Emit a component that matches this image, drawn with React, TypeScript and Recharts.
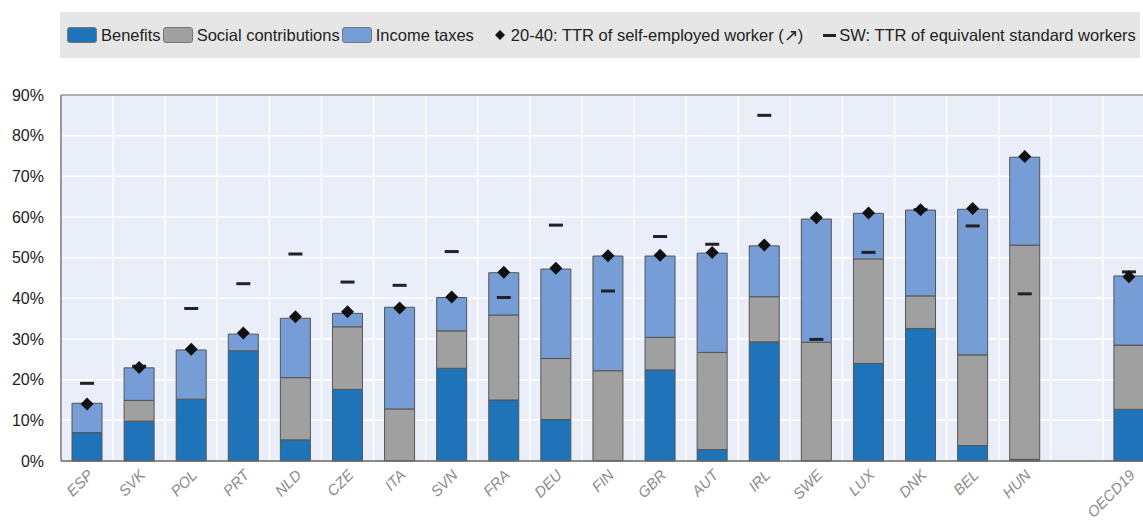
import React from 'react';
import { ComposedChart, Bar, Line, XAxis, YAxis, CartesianGrid, ReferenceLine } from 'recharts';

const categories = ['ESP', 'SVK', 'POL', 'PRT', 'NLD', 'CZE', 'ITA', 'SVN', 'FRA', 'DEU', 'FIN', 'GBR', 'AUT', 'IRL', 'SWE', 'LUX', 'DNK', 'BEL', 'HUN', '', 'OECD19'];
const benefits = [7, 9.8, 15.2, 27.1, 5.2, 17.6, 0, 22.8, 15, 10.2, 0, 22.4, 2.8, 29.3, 0, 24, 32.6, 3.8, 0.4, null, 12.7];
const socialContributions = [0, 5.1, 0, 0, 15.3, 15.4, 12.8, 9.2, 20.9, 15, 22.2, 8, 23.9, 11.1, 29.2, 25.7, 8, 22.3, 52.7, null, 15.8];
const incomeTaxes = [7.2, 8, 12.1, 4.1, 14.6, 3.3, 25, 8.2, 10.4, 22, 28.2, 20, 24.4, 12.5, 30.3, 11.2, 21.1, 35.8, 21.6, null, 17];
const selfEmployed = [14, 23, 27.5, 31.5, 35.5, 36.7, 37.6, 40.3, 46.4, 47.4, 50.5, 50.6, 51.3, 53.1, 59.8, 61, 61.8, 62.1, 74.9, null, 45.3];
const standardWorkers = [19.1, 23.3, 37.5, 43.6, 50.9, 44, 43.2, 51.5, 40.2, 58, 41.8, 55.2, 53.3, 85, 29.9, 51.3, 61.8, 57.8, 41.1, null, 46.5];
const yTicks = [0, 10, 20, 30, 40, 50, 60, 70, 80, 90];

const COL_BEN = '#1f73b9';
const COL_SC = '#a0a0a0';
const COL_IT = '#769dd5';

const data = categories.map((name, i) => ({
  name,
  benefits: benefits[i],
  sc: socialContributions[i],
  it: incomeTaxes[i],
  self: selfEmployed[i],
  sw: standardWorkers[i],
}));

const FONT = '"Liberation Sans", Arial, sans-serif';

// diamond marker for self-employed TTR
const renderDiamond = (props: any) => {
  const { cx, cy, value, index } = props;
  if (value == null || cy == null) return <g key={`d-${index}`} />;
  const r = 6.5;
  return (
    <path
      key={`d-${index}`}
      d={`M${cx},${cy - r} L${cx + r},${cy} L${cx},${cy + r} L${cx - r},${cy} Z`}
      fill="#111"
    />
  );
};

// short dash for standard workers
const renderDash = (props: any) => {
  const { cx, cy, value, index } = props;
  if (value == null || cy == null) return <g key={`s-${index}`} />;
  return <rect key={`s-${index}`} x={cx - 7} y={cy - 1.5} width={14} height={3} fill="#222" />;
};

const renderXTick = ({ x, y, payload }: any) => (
  <text
    x={x + 7}
    y={y + 13}
    transform={`rotate(-45, ${x + 7}, ${y + 13})`}
    textAnchor="end"
    fontSize={15}
    fontFamily={FONT}
    fontStyle="italic"
    fill="#8c8c8c"
  >
    {payload.value}
  </text>
);

const swatch = (color: string) => (
  <span style={{ display: 'inline-block', width: 30, height: 16, background: color, border: '1px solid #777', borderRadius: 3, boxSizing: 'border-box', marginRight: 4 }} />
);

export default function App() {
  return (
    <div style={{ position: 'fixed', left: 0, top: 0, width: 1143, height: 521, overflow: 'hidden', background: '#fff', fontFamily: FONT }}>
      {/* Legend */}
      <div
        style={{
          position: 'absolute', left: 60, top: 12, width: 1080, height: 46, background: '#e6e6e6',
          display: 'flex', alignItems: 'center', paddingLeft: 7, boxSizing: 'border-box', fontSize: 16.5, color: '#222', whiteSpace: 'nowrap',
        }}
      >
        {swatch(COL_BEN)}<span style={{ marginRight: 2 }}>Benefits</span>
        {swatch(COL_SC)}<span style={{ marginRight: 2 }}>Social contributions</span>
        {swatch(COL_IT)}<span>Income taxes</span>
        <svg width={10} height={10} style={{ marginLeft: 21, marginRight: 6 }}>
          <path d="M5,0 L10,5 L5,10 L0,5 Z" fill="#111" />
        </svg>
        <span>20-40: TTR of self-employed worker (↗)</span>
        <span style={{ display: 'inline-block', width: 13, height: 3, background: '#222', marginLeft: 20, marginRight: 3 }} />
        <span>SW: TTR of equivalent standard workers</span>
      </div>

      <div style={{ position: 'absolute', left: 0, top: 0 }}>
        <ComposedChart
          width={1170}
          height={521}
          data={data}
          margin={{ top: 95, right: 15, bottom: 0, left: 0 }}
          barSize={30}
        >
          <CartesianGrid
            fill="#e9eef8"
            stroke="#ffffff"
            strokeWidth={1.5}
            verticalCoordinatesGenerator={({ offset }: any) =>
              categories.map((_, i) => offset.left + (i * offset.width) / categories.length)
            }
          />
          <XAxis
            dataKey="name"
            interval={0}
            tickLine={false}
            tickSize={0}
            tick={renderXTick}
            height={60}
            axisLine={{ stroke: '#666', strokeWidth: 1.5 }}
          />
          <YAxis
            domain={[0, 90]}
            ticks={yTicks}
            width={61}
            tickLine={false}
            tickSize={0}
            tickMargin={17}
            tickFormatter={(v: number) => `${v}%`}
            tick={{ fontSize: 16, fill: '#222', fontFamily: FONT }}
            axisLine={{ stroke: '#777', strokeWidth: 1.5 }}
          />
          <ReferenceLine y={90} stroke="#999" strokeWidth={1.5} />
          <Bar dataKey="benefits" stackId="a" fill={COL_BEN} stroke="#555" strokeWidth={1} isAnimationActive={false} />
          <Bar dataKey="sc" stackId="a" fill={COL_SC} stroke="#555" strokeWidth={1} isAnimationActive={false} />
          <Bar dataKey="it" stackId="a" fill={COL_IT} stroke="#555" strokeWidth={1} isAnimationActive={false} />
          <Line dataKey="sw" stroke="none" dot={renderDash} activeDot={false} isAnimationActive={false} />
          <Line dataKey="self" stroke="none" dot={renderDiamond} activeDot={false} isAnimationActive={false} />
        </ComposedChart>
      </div>
    </div>
  );
}
